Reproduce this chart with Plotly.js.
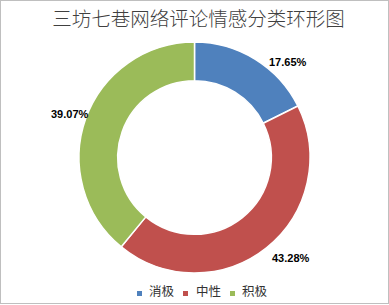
<!DOCTYPE html>
<html>
<head>
<meta charset="utf-8">
<script src="https://cdn.plot.ly/plotly-3.0.1.min.js"></script>
<style>
html,body{margin:0;padding:0;background:#fff;}
#wrap{position:relative;width:389px;height:305px;}
#chart{width:389px;height:305px;}
#frame{position:absolute;left:0;top:0;width:389px;height:304px;border:1px solid #bfbfbf;box-sizing:border-box;pointer-events:none;}
</style>
</head>
<body>
<div id="wrap"><div id="chart"></div><div id="frame"></div></div>
<script>
const categories = ['消极', '中性', '积极'];
const shares = [17.65, 43.28, 39.07];
const colors = ['#4F81BD', '#C0504D', '#9BBB59'];
const titleText = '三坊七巷网络评论情感分类环形图';

// layout constants (pixels)
const W = 389, H = 305;
const CX = 194.5, CY = 157.5, R = 115.5;
const labelR = 125;
const labelNudge = [[27.5, 10.7], [18.6, 2.8], [-6.8, -1.4]];
const legendSquareX = [137, 183, 230];
const legendTextX = [147, 194, 240];
const legendY = 290;

const px = x => x / W;
const py = y => 1 - y / H;

const trace = {
  type: 'pie',
  labels: categories,
  values: shares,
  hole: 0.665,
  sort: false,
  direction: 'clockwise',
  rotation: 0,
  marker: {colors: colors, line: {color: '#ffffff', width: 1.5}},
  textinfo: 'none',
  hoverinfo: 'none',
  domain: {x: [0, 1], y: [1 - (CY + R) / H, 1 - (CY - R) / H]}
};

const total = shares.reduce((a, b) => a + b, 0);
const annotations = [];
const shapes = [];
let cum = 0;
shares.forEach((v, i) => {
  const mid = (cum + v / 2) / total * 2 * Math.PI;
  cum += v;
  const x = CX + labelR * Math.sin(mid) + labelNudge[i][0];
  const y = CY - labelR * Math.cos(mid) + labelNudge[i][1];
  annotations.push({
    xref: 'paper', yref: 'paper', x: px(x), y: py(y), xanchor: 'center', yanchor: 'middle',
    showarrow: false, text: v.toFixed(2) + '%',
    font: {family: 'Liberation Sans, Arial, sans-serif', size: 11, color: '#000000', weight: 'bold'}
  });
  shapes.push({
    type: 'rect', xref: 'paper', yref: 'paper',
    x0: px(legendSquareX[i]), x1: px(legendSquareX[i] + 5),
    y0: py(legendY + 6), y1: py(legendY + 1),
    fillcolor: colors[i], line: {width: 0}
  });
  annotations.push({
    xref: 'paper', yref: 'paper', x: px(legendTextX[i]), y: py(legendY), xanchor: 'left', yanchor: 'middle',
    showarrow: false, text: categories[i],
    font: {family: 'Noto Sans CJK SC, sans-serif', size: 12.5, color: '#333333'}
  });
});

const layout = {
  width: W, height: H,
  margin: {l: 0, r: 0, t: 0, b: 0},
  paper_bgcolor: '#ffffff',
  title: {text: titleText, x: 0.51, xanchor: 'center', y: py(19), yanchor: 'middle',
          font: {family: 'Noto Sans CJK SC, sans-serif', size: 19.5, color: '#404040', weight: 300}},
  showlegend: false,
  annotations: annotations,
  shapes: shapes
};

Plotly.newPlot('chart', [trace], layout, {displayModeBar: false, staticPlot: true});
</script>
</body>
</html>
